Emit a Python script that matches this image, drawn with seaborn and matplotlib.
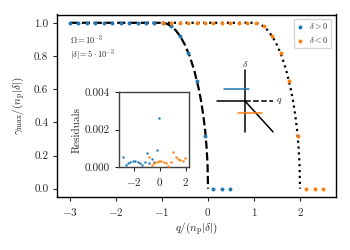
import matplotlib
matplotlib.use("Agg")
import matplotlib.pyplot as plt
import seaborn as sns
from matplotlib.ticker import FormatStrFormatter

# --- data ---
# simulated points, delta > 0
q_pos = [-3.0, -2.817, -2.633, -2.45, -2.267, -2.083, -1.9, -1.717, -1.533, -1.35,
         -1.167, -0.983, -0.8, -0.617, -0.433, -0.25, -0.067, 0.117, 0.3, 0.483]
g_pos = [1.0, 1.0, 1.0, 1.0, 1.0, 1.0, 1.0, 1.0, 1.0, 1.0,
         1.0, 1.0, 0.98, 0.92, 0.82, 0.65, 0.32, 0.0, 0.0, 0.0]
# simulated points, delta < 0
q_neg = [-0.983, -0.8, -0.617, -0.433, -0.25, -0.067, 0.117, 0.3, 0.483, 0.667,
         0.85, 1.033, 1.217, 1.4, 1.583, 1.767, 1.95, 2.133, 2.317, 2.5]
g_neg = [1.0, 1.0, 1.0, 1.0, 1.0, 1.0, 1.0, 1.0, 1.0, 1.0,
         1.0, 1.0, 0.98, 0.92, 0.82, 0.65, 0.32, 0.0, 0.0, 0.0]

# theory curves
q_th_pos = [-3.0, -1.0, -0.9, -0.8, -0.7, -0.6, -0.5, -0.4, -0.3, -0.2, -0.15, -0.1, -0.06, -0.03, -0.01, 0.0]
q_th_neg = [-1.0, 1.0, 1.1, 1.2, 1.3, 1.4, 1.5, 1.6, 1.7, 1.8, 1.85, 1.9, 1.94, 1.97, 1.99, 2.0]
g_th = [1.0, 1.0, 0.995, 0.98, 0.954, 0.917, 0.866, 0.8, 0.714, 0.6, 0.527, 0.436, 0.344, 0.244, 0.141, 0.0]

# residuals (inset)
rq_pos = [-2.817, -2.633, -2.45, -2.267, -2.083, -1.9, -1.717, -1.533,
          -1.35, -1.167, -0.983, -0.8, -0.617, -0.433, -0.25, -0.067]
res_pos = [0.00053, 0.00010, 0.00020, 0.00030, 0.00035, 0.00035, 0.00030, 0.00022,
           0.00010, 0.00027, 0.00075, 0.00022, 0.00044, 0.00027, 0.00092, 0.00264]
rq_neg = [-0.8, -0.617, -0.433, -0.25, -0.067, 0.117, 0.3, 0.483,
          0.667, 0.85, 1.033, 1.217, 1.4, 1.583, 1.767, 1.95]
res_neg = [0.00053, 0.00012, 0.00020, 0.00030, 0.00035, 0.00035, 0.00030, 0.00020,
           0.00008, 0.00027, 0.00080, 0.00053, 0.00044, 0.00039, 0.00035, 0.00048]

# schematic (own small axes, origin at crossing)
sk_axis_q = [-1.0, 0.0]
sk_axis_q_dash = [0.0, 1.0]
sk_axis_d = [-1.1, 1.1]
sk_diag_x = [0.0, 1.0]
sk_diag_y = [0.0, -1.1]
sk_blue_x = [-0.75, 0.15]
sk_blue_y = 0.42
sk_orange_x = [-0.26, 0.62]
sk_orange_y = -0.42

blue = "#1f77b4"
orange = "#ff7f0e"

sns.set_style("ticks")
plt.rcParams["font.family"] = ["cmr10", "DejaVu Serif"]
plt.rcParams["mathtext.fontset"] = "cm"
plt.rcParams["axes.formatter.use_mathtext"] = True
plt.rcParams["axes.unicode_minus"] = True

fig = plt.figure(figsize=(3.5, 2.5), dpi=100)
ax = fig.add_axes([0.164, 0.212, 0.795, 0.730])

# theory lines
sns.lineplot(x=q_th_pos, y=g_th, ax=ax, color="k", linestyle="--", lw=1.6,
             estimator=None, sort=False)
sns.lineplot(x=q_th_neg, y=g_th, ax=ax, color="k", linestyle=":", lw=1.6,
             estimator=None, sort=False)

# data points
sns.scatterplot(x=q_pos, y=g_pos, ax=ax, color=blue, s=8, linewidth=0, zorder=3,
                label=r"$\delta > 0$")
sns.scatterplot(x=q_neg, y=g_neg, ax=ax, color=orange, s=8, linewidth=0, zorder=3,
                label=r"$\delta < 0$")

ax.set_xticks([-3, -2, -1, 0, 1, 2])
ax.set_yticks([0.0, 0.2, 0.4, 0.6, 0.8, 1.0])
ax.yaxis.set_major_formatter(FormatStrFormatter("%.1f"))
ax.set_xlabel(r"$q/(n_{\mathrm{p}}|\delta|)$", fontsize=8)
ax.set_ylabel(r"$\gamma_{\max}/(n_{\mathrm{p}}|\delta|)$", fontsize=8)
ax.xaxis.set_label_coords(0.5, -0.125)
ax.yaxis.set_label_coords(-0.108, 0.5)
ax.tick_params(labelsize=8, direction="out", length=3, width=0.8)
for s in ax.spines.values():
    s.set_linewidth(1.0)
    s.set_color("k")

ax.text(0.045, 0.862, r"$\Omega = 10^{-3}$", transform=ax.transAxes, fontsize=6, va="center")
ax.text(0.045, 0.782, r"$|\delta| = 5 \cdot 10^{-3}$", transform=ax.transAxes, fontsize=6, va="center")

ax.legend(loc="upper right", fontsize=6, handlelength=0.6, handletextpad=0.8,
          borderaxespad=0.5, borderpad=0.4, labelspacing=0.4, frameon=True)

# inset with residuals
axi = fig.add_axes([0.34, 0.331, 0.2, 0.301])
sns.scatterplot(x=rq_pos, y=res_pos, ax=axi, color=blue, s=3, linewidth=0, zorder=3)
sns.scatterplot(x=rq_neg, y=res_neg, ax=axi, color=orange, s=3, linewidth=0, zorder=3)
axi.set_xlim(-3.15, 2.25)
axi.set_ylim(0, 0.004)
axi.set_xticks([-2, 0, 2])
axi.set_yticks([0.0, 0.002, 0.004])
axi.yaxis.set_major_formatter(FormatStrFormatter("%.3f"))
axi.set_ylabel("Residuals", fontsize=8, labelpad=2)
axi.tick_params(labelsize=8, direction="out", length=3, width=0.8)
for s in axi.spines.values():
    s.set_linewidth(1.0)
    s.set_color("0.25")

# schematic
axs = fig.add_axes([0.588, 0.439, 0.224, 0.3136])
axs.set_xlim(-1.4, 1.4)
axs.set_ylim(-1.4, 1.4)
axs.axis("off")
axs.plot(sk_axis_q, [0, 0], color="k", lw=1.1)
axs.plot(sk_axis_q_dash, [0, 0], color="k", lw=1.1, linestyle="--")
axs.plot([0, 0], sk_axis_d, color="k", lw=1.1)
axs.plot(sk_diag_x, sk_diag_y, color="k", lw=1.1)
axs.plot(sk_blue_x, [sk_blue_y, sk_blue_y], color=blue, lw=1.1)
axs.plot(sk_orange_x, [sk_orange_y, sk_orange_y], color=orange, lw=1.1)
axs.text(0, 1.32, r"$\delta$", fontsize=7, ha="center", va="center")
axs.text(1.22, 0, r"$q$", fontsize=7, ha="center", va="center")

fig.savefig("out.png", dpi=100)
